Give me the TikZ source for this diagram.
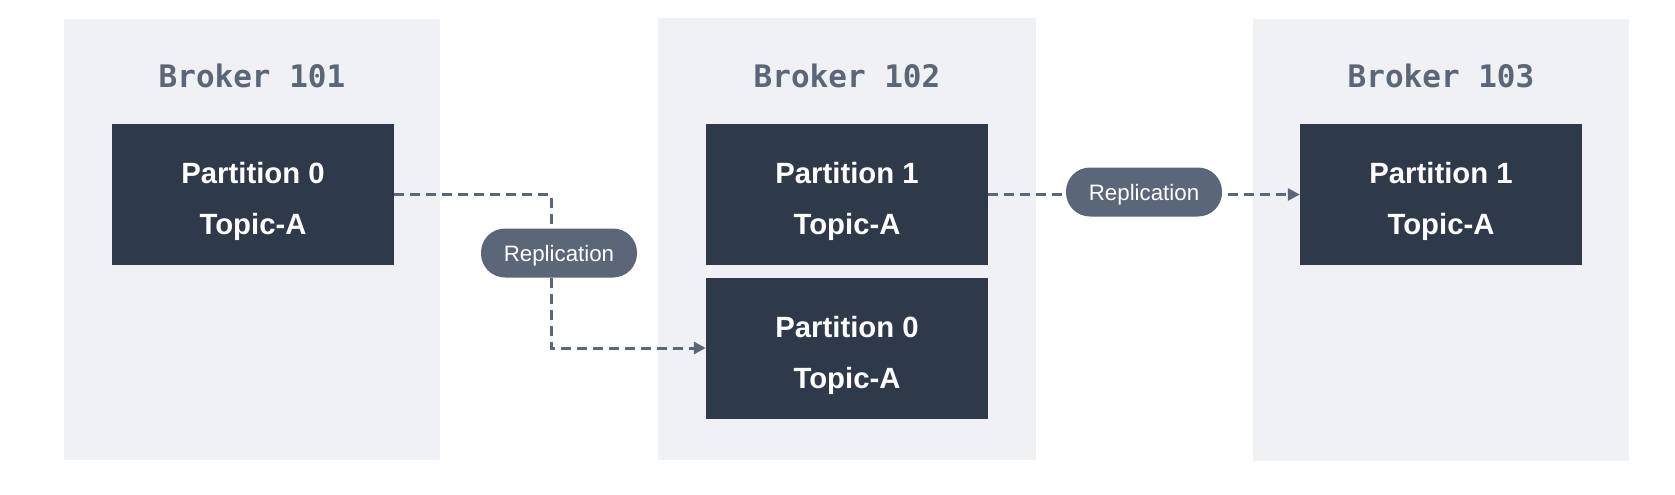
\documentclass[tikz,border=0pt]{standalone}
\usepackage{fontspec}
\setmainfont{Liberation Sans}
\newfontfamily\brokerfont{DejaVu Sans Mono}
\usetikzlibrary{arrows.meta}
\definecolor{bgbox}{HTML}{EFF1F4}
\definecolor{darkbox}{HTML}{2E3949}
\definecolor{slate}{HTML}{5B6679}
\newcommand{\parttext}[2]{\rule{0pt}{35.5pt}#1\\#2}
\tikzset{
  broker/.style={fill=bgbox, draw=none},
  part/.style={fill=darkbox, draw=none, text=white, minimum width=282pt, minimum height=141pt,
    inner sep=0pt, align=center, font=\fontsize{29.3}{51}\selectfont\bfseries},
  title/.style={text=slate, font=\brokerfont\bfseries\fontsize{31}{36}\selectfont, inner sep=0pt},
  pill/.style={fill=slate, text=white, rounded corners=24pt, minimum width=156pt, minimum height=49pt,
    inner sep=0pt, text depth=0pt, font=\fontsize{22.3}{24}\selectfont},
  repl/.style={draw=slate, line width=3pt, dash pattern=on 10pt off 6pt,
    -{Triangle[length=12pt,width=12pt]}},
}
\begin{document}
\begin{tikzpicture}[x=1pt,y=-1pt]
\useasboundingbox (0,0) rectangle (1675,495);
% broker backgrounds
\path[broker] (64,19) rectangle (440,460);
\path[broker] (658,18) rectangle (1036,460);
\path[broker] (1253,19) rectangle (1629,461);
% titles
\node[title] (t1) at (252,76) {Broker 101};
\node[title] (t2) at (847,76) {Broker 102};
\node[title] (t3) at (1441,76) {Broker 103};
% partitions
\node[part] (p0a) at (253,194.5) {\parttext{Partition 0}{Topic-A}};
\node[part] (p1b) at (847,194.5) {\parttext{Partition 1}{Topic-A}};
\node[part] (p0b) at (847,348) {\parttext{Partition 0}{Topic-A}};
\node[part] (p1c) at (1441,194.5) {\parttext{Partition 1}{Topic-A}};
% connectors
\coordinate (bend) at (551,272);
\draw[repl] (p0a.east) -| (bend) |- (p0b.west);
\draw[repl] (p1b.east) -- (p1c.west);
% pills
\node[pill] (r1) at (559,253) {Replication};
\node[pill] (r2) at (1144,192) {Replication};
\end{tikzpicture}
\end{document}
